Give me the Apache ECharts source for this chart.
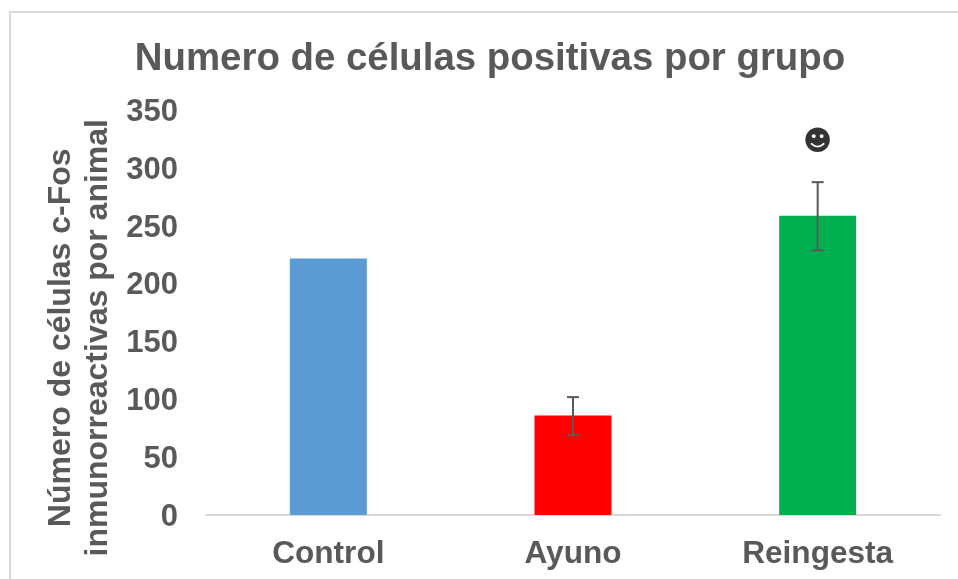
<!DOCTYPE html>
<html>
<head>
<meta charset="utf-8">
<style>html,body{margin:0;padding:0;background:#fff}#c{width:958px;height:579px}</style>
<script src="https://cdn.jsdelivr.net/npm/echarts@6/dist/echarts.min.js"></script>
</head>
<body>
<div id="c"></div>
<script>
const categories = ['Control', 'Ayuno', 'Reingesta'];
const values = [222, 86, 259];
const colors = ['#5b9bd5', '#ff0000', '#00b050'];
const errLow = [null, 69, 229];
const errHigh = [null, 102, 288];
const markerValues = [null, null, 322];
const markerGlyph = '\u263B';
const yTicks = [0, 50, 100, 150, 200, 250, 300, 350];
const titleText = 'Numero de células positivas por grupo';
const yName = 'Número de células c-Fos\ninmunorreactivas por animal';
const FONT = '"Liberation Sans", Arial, sans-serif';
const GREY = '#595959';

const chart = echarts.init(document.getElementById('c'), null, {renderer: 'canvas'});
chart.setOption({
  animation: false,
  backgroundColor: '#fff',
  title: {
    text: titleText, left: 485, top: 35, textAlign: 'center',
    textStyle: {fontFamily: FONT, fontSize: 38.4, fontWeight: 'bold', color: GREY}
  },
  graphic: [{
    type: 'rect', silent: true, z: -1,
    shape: {x: 10, y: 12, width: 960, height: 580},
    style: {fill: 'none', stroke: '#d9d9d9', lineWidth: 2}
  }],
  grid: {left: 206, right: 18, top: 110.5, bottom: 64, containLabel: false},
  xAxis: {
    type: 'category', data: categories,
    axisTick: {show: false},
    axisLine: {lineStyle: {color: '#d9d9d9', width: 2}},
    axisLabel: {fontFamily: FONT, fontSize: 31.6, fontWeight: 'bold', color: GREY, margin: 23}
  },
  yAxis: {
    type: 'value', min: 0, max: 350, interval: 50,
    splitLine: {show: false}, axisLine: {show: false}, axisTick: {show: false},
    axisLabel: {
      margin: 28,
      customValues: yTicks,
      formatter: '{t|{value}}',
      rich: {t: {fontFamily: FONT, fontSize: 31, fontWeight: 'bold', color: GREY, padding: [4, 0, 0, 0]}}
    },
    name: yName, nameLocation: 'middle', nameGap: 89, nameRotate: 90, nameMoveOverlap: false,
    nameTextStyle: {fontFamily: FONT, fontSize: 32, fontWeight: 'bold', color: GREY, lineHeight: 37, padding: [0, 50, 0, 0]}
  },
  series: [{
    type: 'bar', barWidth: 77,
    data: values.map((v, i) => ({value: v, itemStyle: {color: colors[i]}}))
  }, {
    type: 'custom', z: 5,
    data: categories.map((c, i) => [i, errLow[i], errHigh[i]]),
    encode: {x: 0, y: [1, 2]},
    renderItem: function (params, api) {
      if (api.value(1) == null || isNaN(api.value(1))) return {type: 'group', children: []};
      const lo = api.coord([api.value(0), api.value(1)]);
      const hi = api.coord([api.value(0), api.value(2)]);
      const st = {stroke: GREY, lineWidth: 2, fill: 'none'};
      const cap = 6;
      return {type: 'group', children: [
        {type: 'line', shape: {x1: lo[0], y1: lo[1], x2: hi[0], y2: hi[1]}, style: st},
        {type: 'line', shape: {x1: lo[0] - cap, y1: lo[1], x2: lo[0] + cap, y2: lo[1]}, style: st},
        {type: 'line', shape: {x1: hi[0] - cap, y1: hi[1], x2: hi[0] + cap, y2: hi[1]}, style: st}
      ]};
    }
  }, {
    type: 'scatter', symbolSize: 0,
    data: markerValues.map((v, i) => [i, v]),
    label: {
      show: true, position: 'inside', formatter: markerGlyph,
      fontFamily: '"DejaVu Sans"', fontSize: 28, color: '#000'
    }
  }]
});
</script>
</body>
</html>
